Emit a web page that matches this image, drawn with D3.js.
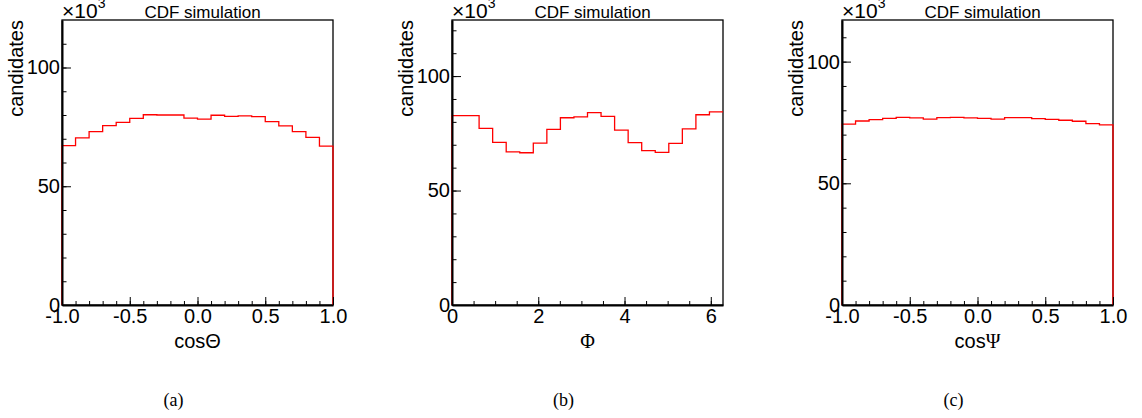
<!DOCTYPE html>
<html>
<head>
<meta charset="utf-8">
<script src="https://cdn.jsdelivr.net/npm/d3@7"></script>
<style>
  body { margin: 0; background: #fff; }
  svg { display: block; }
</style>
</head>
<body>
<svg id="chart" width="1142" height="418"></svg>
<script>
// Candidate counts per bin, in thousands (20 bins each)
const cosThetaCounts = [67.1, 70.4, 73.0, 75.5, 76.9, 78.6, 80.1, 80.0, 80.0, 78.7,
                        78.3, 79.9, 79.4, 79.6, 79.3, 77.2, 75.4, 73.0, 70.6, 66.9];
const phiCounts      = [82.7, 82.7, 77.2, 71.0, 66.9, 66.5, 70.7, 76.7, 81.8, 82.2,
                        84.0, 82.4, 76.4, 70.9, 67.4, 66.7, 70.6, 76.9, 83.1, 84.4];
const cosPsiCounts   = [74.3, 75.6, 76.2, 76.7, 77.1, 76.9, 76.4, 77.0, 77.1, 76.9,
                        76.7, 76.4, 77.0, 77.0, 76.6, 76.3, 75.9, 75.5, 74.5, 74.0];

// Axis ranges
const cosRange = [-1, 1];
const phiRange = [0, 2 * Math.PI];
const yMaxima  = [120, 124.5, 117.1];

// Tick values and labels
const yMajorTicks   = [0, 50, 100];
const yMinorStep    = 10;
const cosMajorTicks = [-1, -0.5, 0, 0.5, 1];
const cosTickLabels = ["-1.0", "-0.5", "0.0", "0.5", "1.0"];
const cosMinorStep  = 0.1;
const phiMajorTicks = [0, 2, 4, 6];
const phiTickLabels = ["0", "2", "4", "6"];
const phiMinorStep  = 0.5;

// Texts
const yTitle     = "candidates";
const plotTitle  = "CDF simulation";
const xTitles    = [["cos", "Θ", false], ["", "Φ", true], ["cos", "Ψ", true]];
const captions   = ["(a)", "(b)", "(c)"];

const SANS  = "'Liberation Sans', Arial, Helvetica, sans-serif";
const SERIF = "'Liberation Serif', 'Times New Roman', serif";

const panels = [
  { counts: cosThetaCounts, range: cosRange, major: cosMajorTicks, labels: cosTickLabels,
    minorStep: cosMinorStep, yMax: yMaxima[0], xTitle: xTitles[0], caption: captions[0],
    left: 62, closeRight: true },
  { counts: phiCounts, range: phiRange, major: phiMajorTicks, labels: phiTickLabels,
    minorStep: phiMinorStep, yMax: yMaxima[1], xTitle: xTitles[1], caption: captions[1],
    left: 452, closeRight: false },
  { counts: cosPsiCounts, range: cosRange, major: cosMajorTicks, labels: cosTickLabels,
    minorStep: cosMinorStep, yMax: yMaxima[2], xTitle: xTitles[2], caption: captions[2],
    left: 842, closeRight: true }
];

const W = 271, TOP = 20, BOTTOM = 305;
const svg = d3.select("#chart");

panels.forEach(p => {
  const g = svg.append("g").attr("transform", `translate(${p.left},0)`);
  const x = d3.scaleLinear().domain(p.range).range([0, W]);
  const y = d3.scaleLinear().domain([0, p.yMax]).range([BOTTOM, TOP]);

  // frame box
  g.append("rect")
    .attr("x", 0).attr("y", TOP).attr("width", W).attr("height", BOTTOM - TOP)
    .attr("fill", "none").attr("stroke", "#000").attr("stroke-width", 1.3);

  // histogram outline
  const n = p.counts.length;
  const edges = d3.range(n + 1).map(i => p.range[0] + i * (p.range[1] - p.range[0]) / n);
  const path = d3.path();
  path.moveTo(x(edges[0]), y(0));
  p.counts.forEach((v, i) => {
    path.lineTo(x(edges[i]), y(v));
    path.lineTo(x(edges[i + 1]), y(v));
  });
  if (p.closeRight) path.lineTo(x(edges[n]), y(0));
  g.append("path")
    .attr("d", path.toString())
    .attr("fill", "none").attr("stroke", "#ff0000").attr("stroke-width", 1.3);

  // x axis: minor ticks, then major ticks with labels
  const xMinor = d3.range(p.range[0], p.range[1] + 1e-9, p.minorStep);
  g.append("g").attr("transform", `translate(0,${BOTTOM})`)
    .call(d3.axisBottom(x).tickValues(xMinor).tickSize(-4).tickSizeOuter(0).tickFormat(""))
    .call(a => a.select(".domain").remove())
    .call(a => a.selectAll("line").attr("stroke-width", 1));
  g.append("g").attr("transform", `translate(0,${BOTTOM})`)
    .call(d3.axisBottom(x).tickValues(p.major).tickSize(-8).tickSizeOuter(0).tickPadding(4)
      .tickFormat((d, i) => p.labels[i]))
    .call(a => a.select(".domain").attr("stroke-width", 2))
    .call(a => a.selectAll("line").attr("stroke-width", 1))
    .call(a => a.selectAll("text").attr("font-family", SANS).attr("font-size", 20).attr("fill", "#000"));

  // y axis
  const yMinor = d3.range(0, p.yMax, yMinorStep);
  g.append("g")
    .call(d3.axisLeft(y).tickValues(yMinor).tickSize(-4.5).tickSizeOuter(0).tickFormat(""))
    .call(a => a.select(".domain").remove())
    .call(a => a.selectAll("line").attr("stroke-width", 1));
  g.append("g")
    .call(d3.axisLeft(y).tickValues(yMajorTicks).tickSize(-9).tickSizeOuter(0).tickPadding(2))
    .call(a => a.select(".domain").attr("stroke-width", 2))
    .call(a => a.selectAll("line").attr("stroke-width", 1))
    .call(a => a.selectAll("text").attr("font-family", SANS).attr("font-size", 20).attr("fill", "#000"));

  // exponent label
  const ex = g.append("text").attr("x", 0).attr("y", 18)
    .attr("font-family", SANS).attr("font-size", 21).attr("fill", "#000");
  ex.append("tspan").text("×10");
  ex.append("tspan").attr("dy", -10).attr("font-size", 14).text("3");

  // title
  g.append("text").attr("x", W / 2 + 5).attr("y", 18).attr("text-anchor", "middle")
    .attr("font-family", SANS).attr("font-size", 17).attr("fill", "#000").text(plotTitle);

  // y title
  g.append("text").attr("transform", `translate(-39,${TOP}) rotate(-90)`)
    .attr("text-anchor", "end")
    .attr("font-family", SANS).attr("font-size", 20).attr("fill", "#000").text(yTitle);

  // x title
  const xt = g.append("text").attr("x", W / 2).attr("y", 348).attr("text-anchor", "middle")
    .attr("font-family", SANS).attr("font-size", 20).attr("fill", "#000");
  if (p.xTitle[0]) xt.append("tspan").text(p.xTitle[0]);
  xt.append("tspan").attr("font-family", p.xTitle[2] ? SERIF : SANS).text(p.xTitle[1]);

  // caption
  g.append("text").attr("x", W / 2 - 24).attr("y", 406).attr("text-anchor", "middle")
    .attr("font-family", SERIF).attr("font-size", 18).attr("fill", "#000").text(p.caption);
});
</script>
</body>
</html>
